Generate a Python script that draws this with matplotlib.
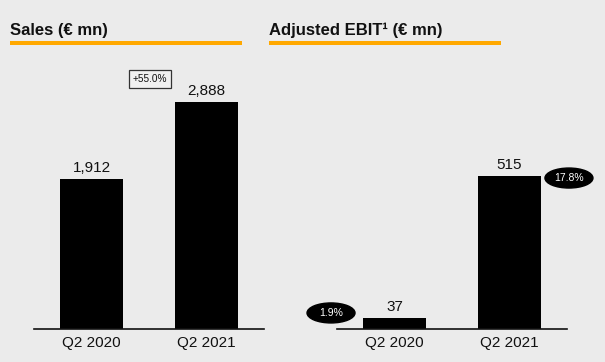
import matplotlib.pyplot as plt
from matplotlib.patches import Ellipse, Rectangle

plt.rcParams['font.family'] = ['Liberation Sans', 'DejaVu Sans']

# data
periods = ['Q2 2020', 'Q2 2021']
sales = [1912, 2888]
sales_labels = ['1,912', '2,888']
sales_growth = '+55.0%'
ebit = [37, 515]
ebit_labels = ['37', '515']
ebit_margin = ['1.9%', '17.8%']

W, H = 605, 362
bg = '#ebebeb'
orange = '#ffa800'

fig = plt.figure(figsize=(W / 100, H / 100), dpi=100, facecolor=bg)


def px_axes(x0, x1, y_top, y_base):
    return fig.add_axes([x0 / W, (H - y_base) / H, (x1 - x0) / W, (y_base - y_top) / H])


def style(ax, ymax):
    ax.set_facecolor(bg)
    ax.set_xlim(-0.5, 1.5)
    ax.set_ylim(0, ymax)
    for s in ['top', 'left', 'right']:
        ax.spines[s].set_visible(False)
    ax.spines['bottom'].set_linewidth(1.2)
    ax.spines['bottom'].set_color('#111111')
    ax.set_yticks([])
    ax.set_xticks(range(len(periods)))
    ax.set_xticklabels(periods, fontsize=11, color='#111111')
    ax.tick_params(axis='x', length=0, pad=5)


# left panel: sales
ax1 = px_axes(34, 264, 60, 329)
style(ax1, 269 * 12.72)
ax1.bar(range(len(sales)), sales, width=0.556, color='black')
for i, (v, lab) in enumerate(zip(sales, sales_labels)):
    ax1.annotate(lab, (i, v), xytext=(0, 3), textcoords='offset points',
                 ha='center', va='bottom', fontsize=11, color='#111111')
ax1.text(0.509, 3180, sales_growth, ha='center', va='center', fontsize=7.2,
         color='#111111',
         bbox=dict(boxstyle='square,pad=0.4', fc='#f0f0f0', ec='#333333', lw=0.9))

# right panel: adjusted EBIT
ax2 = px_axes(337, 567, 60, 329)
ymax2 = 269 * 3.365
style(ax2, ymax2)
ax2.bar(range(len(ebit)), ebit, width=0.556, color='black')
for i, (v, lab) in enumerate(zip(ebit, ebit_labels)):
    ax2.annotate(lab, (i, v), xytext=(0, 3), textcoords='offset points',
                 ha='center', va='bottom', fontsize=11, color='#111111')

ell_w = 48 / 115
ell_h = 20 * 3.365
for (x, y), lab in zip([(-0.552, 54), (1.517, 508)], ebit_margin):
    ax2.add_patch(Ellipse((x, y), ell_w, ell_h, fc='black', ec='black', clip_on=False))
    ax2.text(x, y, lab, ha='center', va='center', fontsize=7.5, color='white')

# titles with orange underline
for x0, title in [(10, 'Sales (€ mn)'), (269, 'Adjusted EBIT¹ (€ mn)')]:
    fig.text(x0 / W, 1 - 30 / H, title, ha='left', va='center',
             fontsize=12, fontweight='bold', color='#111111')
    fig.patches.append(Rectangle((x0 / W, 1 - 45 / H), 232 / W, 4 / H,
                                 transform=fig.transFigure, fc=orange, ec='none'))

fig.savefig('out.png', dpi=100, facecolor=bg)
